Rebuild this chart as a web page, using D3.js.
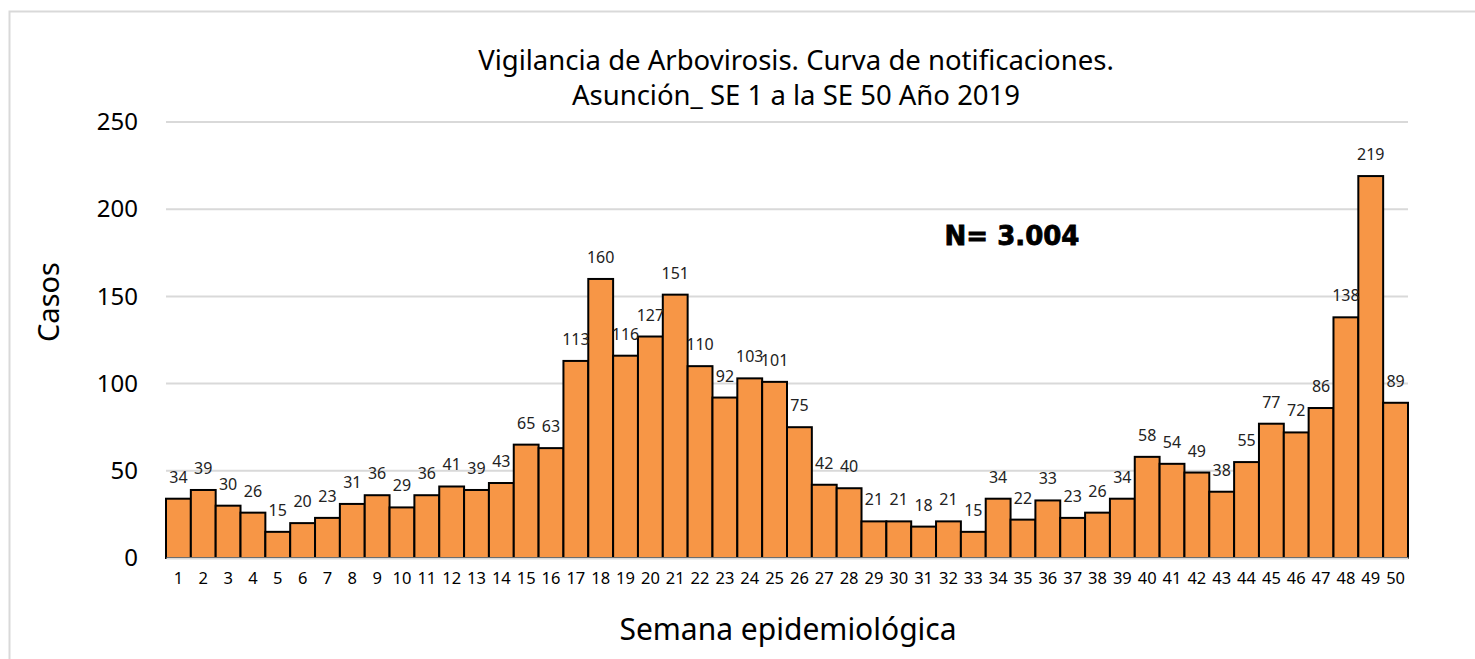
<!DOCTYPE html>
<html>
<head>
<meta charset="utf-8">
<script src="https://cdn.jsdelivr.net/npm/d3@7"></script>
<style>
  body { margin: 0; background: #fff; }
  svg { display: block; }
</style>
</head>
<body>
<svg id="chart" width="1475" height="659"></svg>
<script>
// data
var weeks = d3.range(1, 51).map(String);
var cases = [34, 39, 30, 26, 15, 20, 23, 31, 36, 29,
             36, 41, 39, 43, 65, 63, 113, 160, 116, 127,
             151, 110, 92, 103, 101, 75, 42, 40, 21, 21,
             18, 21, 15, 34, 22, 33, 23, 26, 34, 58,
             54, 49, 38, 55, 77, 72, 86, 138, 219, 89];
var yTicks = [0, 50, 100, 150, 200, 250];
var titleLines = ["Vigilancia de Arbovirosis. Curva de notificaciones.", "Asunción_ SE 1 a la SE 50 Año 2019"];
var totalLabel = "N= 3.004";

var svg = d3.select("#chart"),
    margin = {top: 122, right: 67, bottom: 101, left: 166},
    width = +svg.attr("width") - margin.left - margin.right,
    height = +svg.attr("height") - margin.top - margin.bottom,
    font = "'Noto Sans', 'Open Sans', sans-serif";

// outer frame
svg.append("rect")
    .attr("x", 9.5).attr("y", 11.5)
    .attr("width", 1480).attr("height", 700)
    .attr("fill", "none").attr("stroke", "#d9d9d9").attr("stroke-width", 2);

var g = svg.append("g").attr("transform", "translate(" + margin.left + "," + margin.top + ")");

var x = d3.scaleBand().domain(weeks).range([0, width]).padding(0);
var y = d3.scaleLinear().domain([0, 250]).range([height, 0]);

// gridlines
g.selectAll(".grid").data(yTicks).enter().append("line")
    .attr("class", "grid")
    .attr("x1", 0).attr("x2", width)
    .attr("y1", function(d) { return y(d); })
    .attr("y2", function(d) { return y(d); })
    .attr("stroke", "#d9d9d9").attr("stroke-width", 2);

// y axis labels
var yAxis = d3.axisLeft(y).tickValues(yTicks).tickSize(0).tickPadding(28);
g.append("g").call(yAxis)
    .call(function(s) { s.select(".domain").remove(); })
    .selectAll("text")
    .attr("font-family", font).attr("font-size", 24).attr("fill", "#000");

// bars
g.selectAll(".bar").data(cases).enter().append("rect")
    .attr("class", "bar")
    .attr("x", function(d, i) { return x(weeks[i]); })
    .attr("width", x.bandwidth())
    .attr("y", function(d) { return y(d); })
    .attr("height", function(d) { return height - y(d); })
    .attr("fill", "#F79646")
    .attr("stroke", "#000").attr("stroke-width", 2);

// value labels
g.selectAll(".val").data(cases).enter().append("text")
    .attr("class", "val")
    .attr("x", function(d, i) { return x(weeks[i]) + x.bandwidth() / 2; })
    .attr("y", function(d) { return y(d) - 16; })
    .attr("text-anchor", "middle")
    .attr("font-family", font).attr("font-size", 16).attr("fill", "#222")
    .text(function(d) { return d; });

// x axis
var xAxis = d3.axisBottom(x).tickSize(0).tickPadding(14);
g.append("g").attr("transform", "translate(0," + height + ")").call(xAxis)
    .call(function(s) { s.select(".domain").attr("stroke", "#d9d9d9").attr("stroke-width", 2); })
    .selectAll("text")
    .attr("font-family", font).attr("font-size", 16.5).attr("fill", "#000");

// titles
svg.selectAll(".title").data(titleLines).enter().append("text")
    .attr("class", "title")
    .attr("x", 796)
    .attr("y", function(d, i) { return 70 + i * 35; })
    .attr("text-anchor", "middle")
    .attr("font-family", font).attr("font-size", 27.5).attr("fill", "#000")
    .text(function(d) { return d; });

svg.append("text")
    .attr("x", 1012).attr("y", 245)
    .attr("text-anchor", "middle")
    .attr("font-family", "'DejaVu Sans', sans-serif").attr("font-weight", "bold")
    .attr("font-size", 26).attr("fill", "#000")
    .attr("stroke", "#000").attr("stroke-width", 0.8)
    .text(totalLabel);

svg.append("text")
    .attr("transform", "translate(59,302) rotate(-90)")
    .attr("text-anchor", "middle")
    .attr("font-family", font).attr("font-size", 29).attr("fill", "#000")
    .text("Casos");

svg.append("text")
    .attr("x", 788).attr("y", 640)
    .attr("text-anchor", "middle")
    .attr("font-family", font).attr("font-size", 30).attr("fill", "#000")
    .text("Semana epidemiológica");
</script>
</body>
</html>
